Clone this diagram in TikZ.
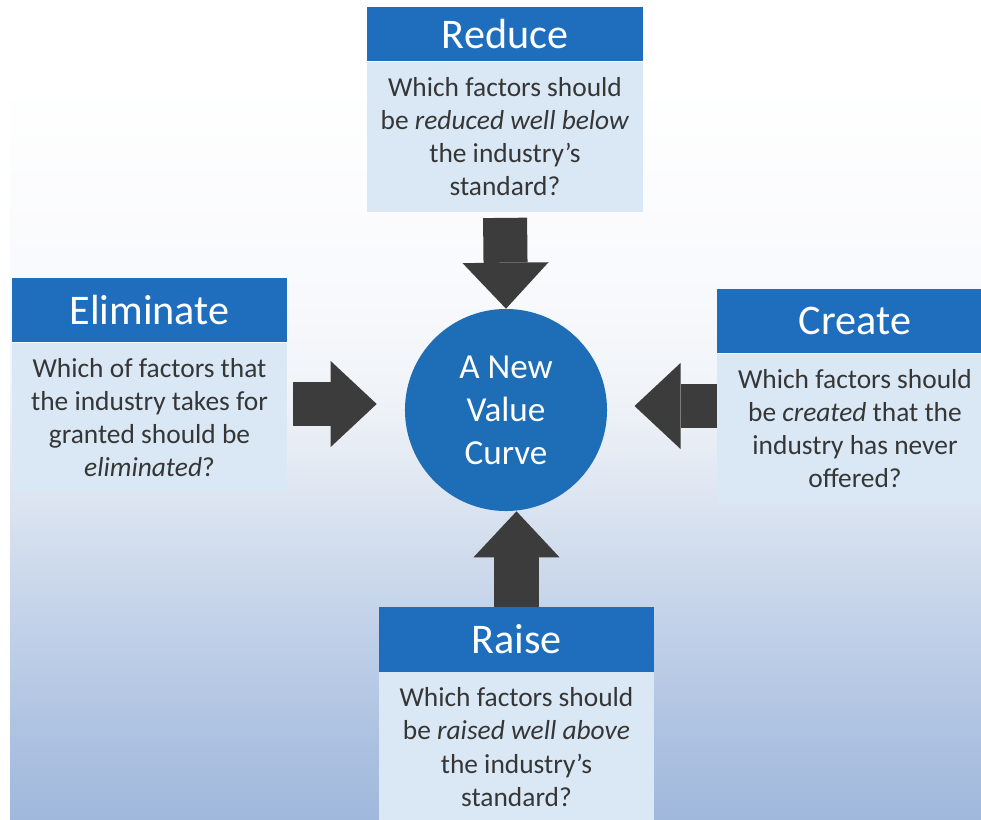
\documentclass[tikz,border=0pt]{standalone}
\usepackage{fontspec}
\setmainfont{Carlito}
\usepackage{xcolor}
\usepackage{tikz}
\usetikzlibrary{positioning,arrows.meta}
\definecolor{hdrblue}{HTML}{1F6EBE}
\definecolor{bodyblue}{HTML}{DAE8F6}
\definecolor{hubblue}{HTML}{1E6DB7}
\definecolor{txtgray}{HTML}{363636}
\definecolor{arrgray}{HTML}{3C3C3C}
\definecolor{bgA}{HTML}{A0B8DC}
\definecolor{bgB}{HTML}{B0C4E2}
\definecolor{bgC}{HTML}{C3D2E9}
\definecolor{bgD}{HTML}{D3DEEE}
\definecolor{bgE}{HTML}{E3E9F3}
\definecolor{bgF}{HTML}{EFF3F8}
\definecolor{bgG}{HTML}{F8F9FC}
\pgfdeclareverticalshading{bgfade}{100bp}{color(0bp)=(bgA); color(25bp)=(bgA); color(31.1bp)=(bgB); color(37.2bp)=(bgC); color(42.1bp)=(bgD); color(46.3bp)=(bgE); color(50.6bp)=(bgF); color(56.7bp)=(bgG); color(70bp)=(white); color(100bp)=(white)}
\tikzset{
  hdr/.style ={fill=hdrblue, text=white, minimum width=6.875cm, minimum height=1.6cm, inner sep=0pt, font=\fontsize{30}{34}\selectfont},
  body/.style={fill=bodyblue, text=txtgray, minimum width=6.875cm, minimum height=3.75cm, inner sep=0pt, align=center, font=\fontsize{19.5}{23.5}\selectfont},
  hub/.style ={circle, fill=hubblue, text=white, minimum size=5.05cm, inner sep=0pt, align=center, font=\fontsize{25}{30.5}\selectfont},
  blockarr/.style={draw=arrgray, line width=1.1cm, -{Triangle[width=2.15cm, length=1.15cm, line width=0pt]}},
}
\begin{document}
\begin{tikzpicture}[x=0.025cm, y=-0.025cm]
        \useasboundingbox (0,0) rectangle (981,820);
        \fill[shading=bgfade] (10,0) rectangle (981,820);
        \node[hdr, minimum height=1.35cm] (RedH) at (505,34) {Reduce};
        \node[body, below=0pt of RedH] (RedB) {Which factors should\\be \textit{reduced well below}\\the industry’s\\standard?};
        \node[hdr] (ElimH) at (149.5,310) {Eliminate};
        \node[body, below=0pt of ElimH] (ElimB) {Which of factors that\\the industry takes for\\granted should be\\\textit{eliminated}?};
        \node[hdr] (CreH) at (855,321) {Create};
        \node[body, below=0pt of CreH] (CreB) {Which factors should\\be \textit{created} that the\\industry has never\\offered?};
        \node[hdr] (RaiH) at (516.5,639.5) {Raise};
        \node[body, below=0pt of RaiH] (RaiB) {Which factors should\\be \textit{raised well above}\\the industry’s\\standard?};
        \node[hub] (V) at (506,410) {A New\\Value\\Curve};
        \draw[blockarr, shorten <=0.15cm] (RedB.south) -- (V.north);
        \draw[blockarr, shorten <=0.15cm, shorten >=0.7cm] ([yshift=0.15cm]ElimB.east |- V.center) -- ([yshift=0.15cm]V.west);
        \draw[blockarr, shorten >=0.68cm] ([yshift=0.1cm]CreB.west |- V.center) -- ([yshift=0.1cm]V.east);
        \draw[blockarr] (RaiH.north) -- (RaiH.north |- V.south);
      \end{tikzpicture}
\end{document}
